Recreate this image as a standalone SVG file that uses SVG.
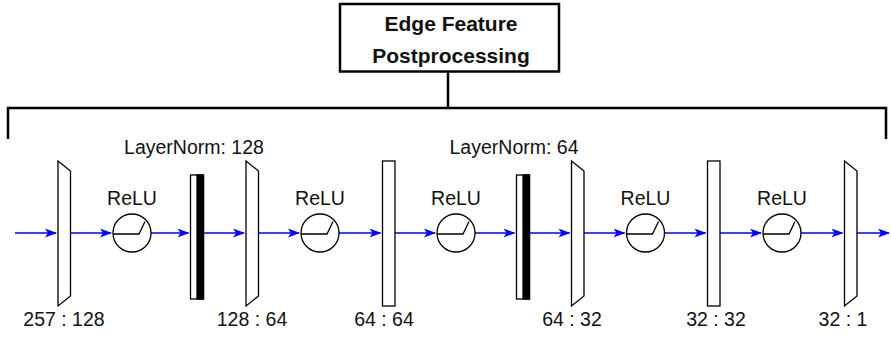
<svg xmlns="http://www.w3.org/2000/svg" width="891" height="338" viewBox="0 0 891 338">
<defs>
<marker id="ah" markerUnits="userSpaceOnUse" markerWidth="13" markerHeight="10" refX="11" refY="4.5" orient="auto">
<path d="M0,0 L12,4.5 L0,9 L3,4.5 Z" fill="#0000FF"/>
</marker>
</defs>
<style>
.t{font-family:"Liberation Sans",Arial,sans-serif;font-size:19.5px;fill:#111;text-anchor:middle}
.tb{font-family:"Liberation Sans",Arial,sans-serif;font-size:21px;font-weight:bold;fill:#111;text-anchor:middle}
.sh{fill:#fff;stroke:#000;stroke-width:1.3}
.blk{fill:#000;stroke:#000;stroke-width:1.3}
.relu{fill:none;stroke:#000;stroke-width:1.3}
.c{stroke:#0000FF;stroke-width:1.5;fill:none;marker-end:url(#ah)}
.br{stroke:#000;stroke-width:2.5;fill:none}
</style>
<rect width="891" height="338" fill="#fff"/>
<g id="title">
<rect x="340" y="4" width="219" height="67.5" fill="#fff" stroke="#000" stroke-width="2.5"/>
<text class="tb" x="451" y="31">Edge Feature</text>
<text class="tb" x="451" y="63">Postprocessing</text>
</g>
<g id="bracket">
<path class="br" d="M448,72 V108"/>
<path class="br" d="M8,139 V108 H886 V139"/>
</g>
<g id="connectors">
<line class="c" x1="15" y1="233" x2="56" y2="233"/>
<line class="c" x1="70.5" y1="233" x2="111" y2="233"/>
<line class="c" x1="151" y1="233" x2="188.5" y2="233"/>
<line class="c" x1="203.5" y1="233" x2="244" y2="233"/>
<line class="c" x1="258.5" y1="233" x2="299" y2="233"/>
<line class="c" x1="339" y1="233" x2="380.5" y2="233"/>
<line class="c" x1="395" y1="233" x2="435" y2="233"/>
<line class="c" x1="475" y1="233" x2="514.5" y2="233"/>
<line class="c" x1="529.5" y1="233" x2="569.5" y2="233"/>
<line class="c" x1="584" y1="233" x2="624.5" y2="233"/>
<line class="c" x1="664.5" y1="233" x2="705.5" y2="233"/>
<line class="c" x1="720" y1="233" x2="761" y2="233"/>
<line class="c" x1="801" y1="233" x2="842.5" y2="233"/>
<line class="c" x1="857" y1="233" x2="889" y2="233"/>
</g>
<g id="fc1">
<polygon class="sh" points="58,161 70.5,171 70.5,296 58,306"/>
<text class="t" x="64" y="326">257 : 128</text>
</g>
<g id="relu1">
<circle class="relu" cx="132" cy="233" r="19"/>
<polyline class="relu" points="113,234 139,234 145,221.5"/>
<text class="t" x="132" y="205">ReLU</text>
</g>
<g id="ln1">
<rect class="sh" x="190.5" y="175" width="13" height="124"/>
<rect class="blk" x="197" y="175" width="6.5" height="124"/>
<text class="t" x="194" y="154">LayerNorm: 128</text>
</g>
<g id="fc2">
<polygon class="sh" points="246,161 258.5,171 258.5,296 246,306"/>
<text class="t" x="252" y="326">128 : 64</text>
</g>
<g id="relu2">
<circle class="relu" cx="320" cy="233" r="19"/>
<polyline class="relu" points="301,234 327,234 333,221.5"/>
<text class="t" x="320" y="205">ReLU</text>
</g>
<g id="fc3">
<rect class="sh" x="382.5" y="161" width="12.5" height="145"/>
<text class="t" x="384" y="326">64 : 64</text>
</g>
<g id="relu3">
<circle class="relu" cx="456" cy="233" r="19"/>
<polyline class="relu" points="437,234 463,234 469,221.5"/>
<text class="t" x="456" y="205">ReLU</text>
</g>
<g id="ln2">
<rect class="sh" x="516.5" y="175" width="13" height="124"/>
<rect class="blk" x="523" y="175" width="6.5" height="124"/>
<text class="t" x="514" y="154">LayerNorm: 64</text>
</g>
<g id="fc4">
<polygon class="sh" points="571.5,161 584,171 584,296 571.5,306"/>
<text class="t" x="572" y="326">64 : 32</text>
</g>
<g id="relu4">
<circle class="relu" cx="645.5" cy="233" r="19"/>
<polyline class="relu" points="626.5,234 652.5,234 658.5,221.5"/>
<text class="t" x="645.5" y="205">ReLU</text>
</g>
<g id="fc5">
<rect class="sh" x="707.5" y="161" width="12.5" height="145"/>
<text class="t" x="716" y="326">32 : 32</text>
</g>
<g id="relu5">
<circle class="relu" cx="782" cy="233" r="19"/>
<polyline class="relu" points="763,234 789,234 795,221.5"/>
<text class="t" x="782" y="205">ReLU</text>
</g>
<g id="fc6">
<polygon class="sh" points="844.5,161 857,171 857,296 844.5,306"/>
<text class="t" x="843" y="326">32 : 1</text>
</g>
</svg>
